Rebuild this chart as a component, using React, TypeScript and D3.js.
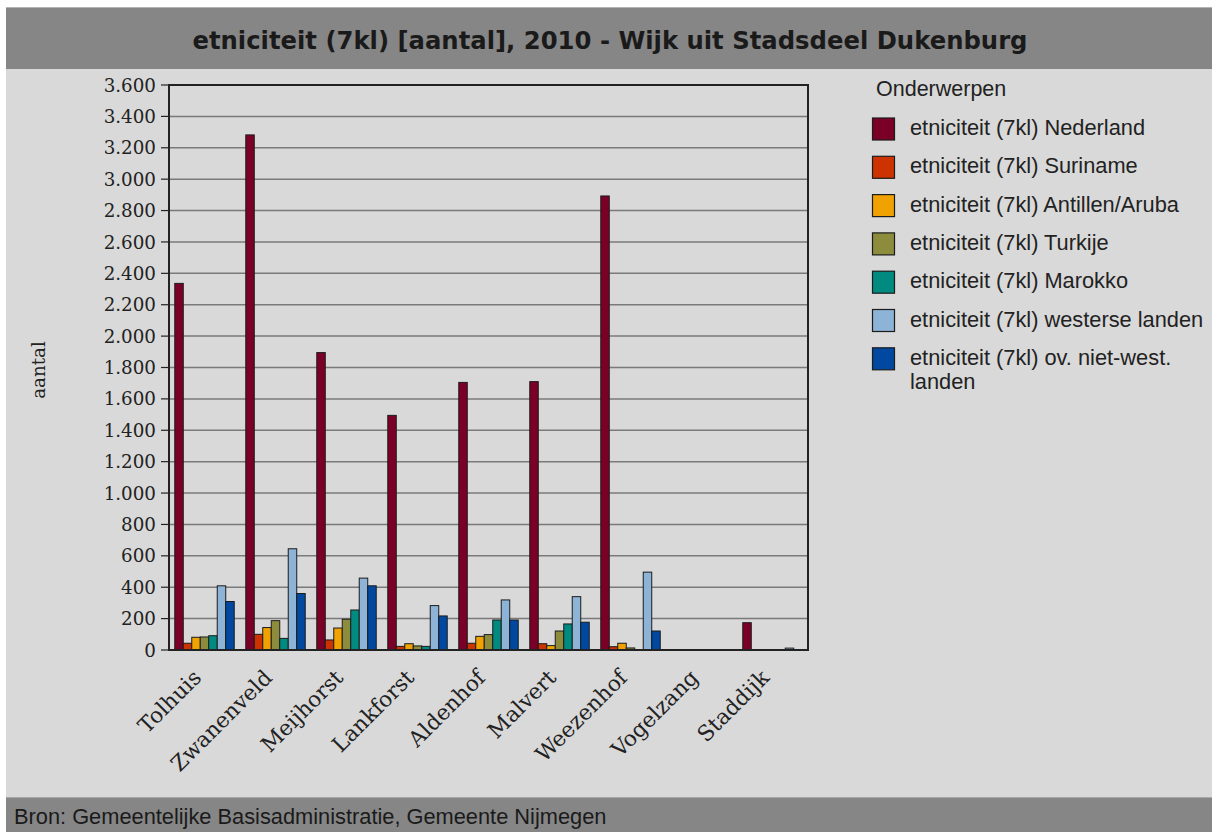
import React from "react";
import * as d3 from "d3";

const categories = ["Tolhuis", "Zwanenveld", "Meijhorst", "Lankforst", "Aldenhof", "Malvert", "Weezenhof", "Vogelzang", "Staddijk"];
const seriesNames = [
  "etniciteit (7kl) Nederland",
  "etniciteit (7kl) Suriname",
  "etniciteit (7kl) Antillen/Aruba",
  "etniciteit (7kl) Turkije",
  "etniciteit (7kl) Marokko",
  "etniciteit (7kl) westerse landen",
  "etniciteit (7kl) ov. niet-west. landen",
];
const nederland = [2336, 3282, 1895, 1495, 1705, 1710, 2893, 0, 174];
const suriname = [43, 100, 64, 23, 43, 40, 21, 0, 0];
const antillen = [81, 143, 140, 40, 87, 28, 43, 0, 0];
const turkije = [83, 187, 196, 26, 98, 121, 13, 0, 0];
const marokko = [91, 74, 255, 23, 191, 166, 0, 0, 0];
const westerse = [409, 645, 458, 283, 319, 340, 496, 0, 12];
const overig = [309, 360, 409, 217, 191, 177, 121, 0, 0];
const seriesValues = [nederland, suriname, antillen, turkije, marokko, westerse, overig];
const colors = ["#7b0027", "#cc3300", "#f0a202", "#8c8c3c", "#008a80", "#8db3d6", "#0048a0"];
const yTicks = [0, 200, 400, 600, 800, 1000, 1200, 1400, 1600, 1800, 2000, 2200, 2400, 2600, 2800, 3000, 3200, 3400, 3600];
const legendLines = [
  ["etniciteit (7kl) Nederland"],
  ["etniciteit (7kl) Suriname"],
  ["etniciteit (7kl) Antillen/Aruba"],
  ["etniciteit (7kl) Turkije"],
  ["etniciteit (7kl) Marokko"],
  ["etniciteit (7kl) westerse landen"],
  ["etniciteit (7kl) ov. niet-west.", "landen"],
];
const title = "etniciteit (7kl) [aantal], 2010 - Wijk uit Stadsdeel Dukenburg";
const source = "Bron: Gemeentelijke Basisadministratie, Gemeente Nijmegen";

const fmt = (v: number) => d3.format(",")(v).replace(/,/g, ".");

export default function App() {
  const W = 1212, H = 832;
  const left = 169, right = 808, top = 85, bottom = 650;
  const x0 = d3.scaleBand<string>().domain(categories).range([left, right]).paddingInner(0).paddingOuter(0);
  const x1 = d3.scaleBand<number>().domain(d3.range(seriesNames.length)).range([0, x0.bandwidth()]).paddingInner(0).paddingOuter(0.68);
  const y = d3.scaleLinear().domain([0, 3600]).range([bottom, top]);
  const serif = "'DejaVu Serif', serif";
  const sans = "'Liberation Sans', Arial, sans-serif";
  return (
    <svg width={W} height={H} style={{ position: "absolute", left: 0, top: 0, display: "block" }}>
      <rect x={0} y={0} width={W} height={H} fill="#ffffff" />
      <rect x={6} y={7} width={W - 6} height={H - 7} fill="#d9d9d9" />
      <rect x={6} y={7} width={W - 6} height={62} fill="#868686" />
      <line x1={6} x2={W} y1={7.5} y2={7.5} stroke="#b4b4b4" strokeWidth={1} />
      <text x={610} y={49} textAnchor="middle" fontFamily="'DejaVu Sans', Verdana, sans-serif" fontWeight="bold" fontSize={24.3} fill="#1a1a1a">{title}</text>
      <rect x={6} y={797} width={W - 6} height={35} fill="#868686" />
      <line x1={6} x2={W} y1={797.5} y2={797.5} stroke="#a8a8a8" strokeWidth={1} />
      <text x={14} y={824} fontFamily={sans} fontSize={21.8} fill="#1a1a1a">{source}</text>

      {yTicks.map((t) => (
        <g key={t}>
          {t > 0 && t < 3600 && <line x1={left} x2={right} y1={y(t)} y2={y(t)} stroke="#7a7a7a" strokeWidth={1.5} />}
          <line x1={161} x2={left} y1={y(t)} y2={y(t)} stroke="#222" strokeWidth={1.2} />
          <text x={156} y={y(t)} dy="0.36em" textAnchor="end" fontFamily={serif} fontSize={18.3} fill="#222">{fmt(t)}</text>
        </g>
      ))}

      {categories.map((c, ci) => (
        <g key={c}>
          {seriesValues.map((vals, si) =>
            vals[ci] > 0 ? (
              <rect key={si} x={(x0(c) as number) + (x1(si) as number)} y={y(vals[ci])} width={x1.bandwidth()} height={bottom - y(vals[ci])} fill={colors[si]} stroke="#1c1c1c" strokeWidth={1} />
            ) : null
          )}
          <text transform={`translate(${(x0(c) as number) + x0.bandwidth() / 2 - 2},${bottom + 29}) rotate(-45)`} textAnchor="end" fontFamily={serif} fontSize={21.6} fill="#222">{c}</text>
        </g>
      ))}

      <rect x={left} y={top} width={right - left} height={bottom - top} fill="none" stroke="#222" strokeWidth={2} />

      <text transform={`translate(45,370) rotate(-90)`} textAnchor="middle" fontFamily={serif} fontSize={18.3} fill="#222">aantal</text>

      <text x={876} y={96} fontFamily={sans} fontSize={21.5} fill="#222">Onderwerpen</text>
      {legendLines.map((lines, i) => (
        <g key={i}>
          <rect x={872.5} y={118 + i * 38.3} width={22} height={22} fill={colors[i]} stroke="#1c1c1c" strokeWidth={1.2} />
          {lines.map((l, li) => (
            <text key={li} x={910} y={135 + i * 38.3 + li * 24} fontFamily={sans} fontSize={21.8} fill="#222">{l}</text>
          ))}
        </g>
      ))}
    </svg>
  );
}
